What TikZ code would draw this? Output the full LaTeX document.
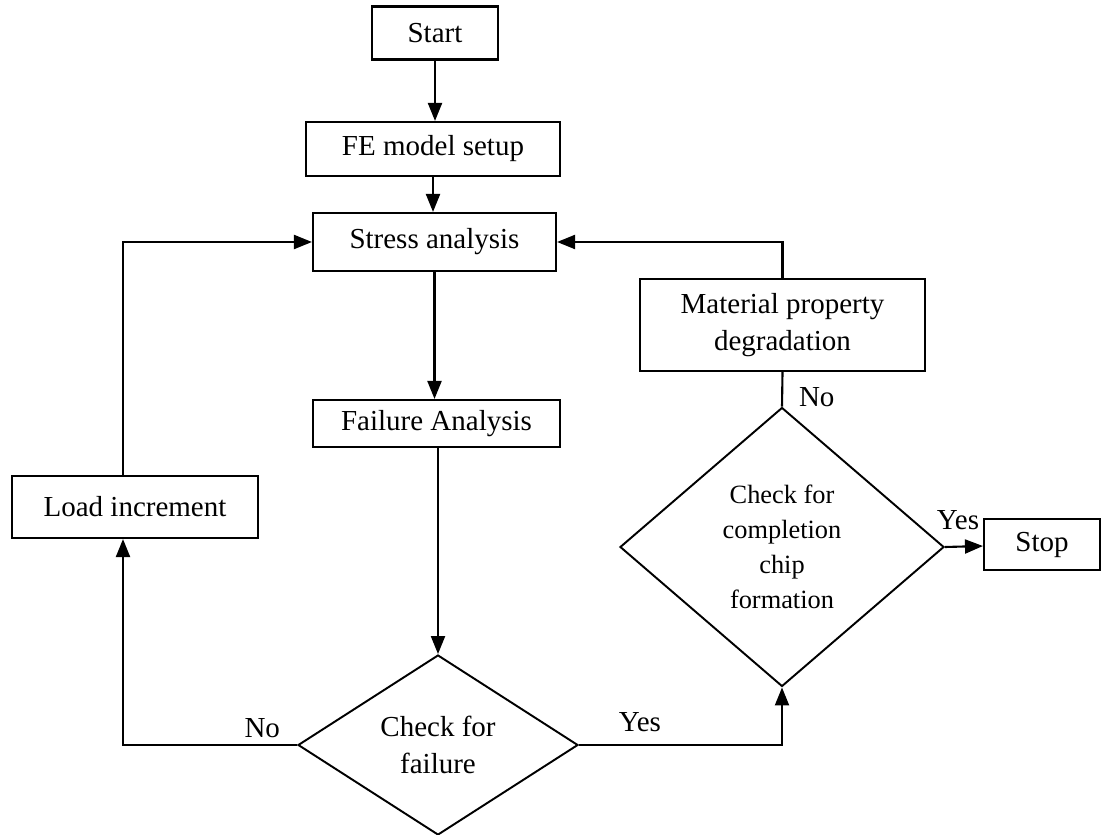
\documentclass[tikz,border=0pt]{standalone}
\usepackage{fontspec}
\setmainfont{Liberation Serif}
\usetikzlibrary{shapes.geometric,arrows.meta,positioning}

\begin{document}
\begin{tikzpicture}[
    every node/.style={font=\fontsize{16.5}{21.5}\selectfont},
    box/.style={draw, line width=1.2pt, align=center, inner sep=2pt},
    decision/.style={draw, diamond, line width=1.1pt, align=center, inner sep=0pt},
    arrow/.style={line width=1.2pt, -{Triangle[length=0.36cm, width=0.28cm]}},
    link/.style={line width=1.2pt}
  ]
                % Fix the picture area
                \useasboundingbox (0,0) rectangle (22.12,16.68);

                % Draw the process boxes
                \node[box, minimum width=2.52cm, minimum height=1.06cm] (Start) at (8.70,16.02) {Start};
                \node[box, minimum width=5.08cm, minimum height=1.08cm] (FE) at (8.66,13.70) {FE model setup};
                \node[box, minimum width=4.86cm, minimum height=1.16cm] (Stress) at (8.69,11.84) {Stress analysis};
                \node[box, minimum width=4.94cm, minimum height=0.94cm] (Failure) at (8.73,8.21) {Failure Analysis};
                \node[box, minimum width=4.92cm, minimum height=1.24cm] (Load) at (2.70,6.54) {Load increment};
                \node[box, minimum width=5.70cm, minimum height=1.84cm] (Material) at (15.65,10.18) {Material property\\degradation};
                \node[box, minimum width=2.32cm, minimum height=1.02cm] (Stop) at (20.84,5.79) {Stop};

                % Draw the two checks
                \node[decision, minimum width=5.6cm, minimum height=3.6cm] (CheckFail) at (8.76,1.78) {Check for\\failure};
                \node[decision, minimum width=6.48cm, minimum height=5.58cm,
                      font=\fontsize{15}{19.8}\selectfont] (CheckChip) at (15.64,5.74) {Check for\\completion\\chip\\formation};

                % Corner points of the load loop
                \coordinate (LoadTop) at ([xshift=-0.24cm]Load.north);
                \coordinate (LoadBot) at ([xshift=-0.24cm]Load.south);

                % Draw the main line down
                \draw[arrow] (Start.south) -- (Start.south |- FE.north);
                \draw[arrow] (FE.south) -- (FE.south |- Stress.north);
                \draw[arrow] (Stress.south) -- (Stress.south |- Failure.north);
                \draw[arrow] (CheckFail.north |- Failure.south) -- (CheckFail.north);

                % Draw the No branch back to the load increment
                \draw[arrow] (CheckFail.west) -| node[pos=0.1, above] {No} (LoadBot);
                \draw[arrow] (LoadTop) |- (Stress.west);

                % Draw the Yes branch to the completion check
                \draw[arrow] (CheckFail.east) -| node[pos=0.15, above, yshift=0.12cm] {Yes} (CheckChip.south);
                \draw[link] (CheckChip.north) -- node[pos=0.27, right, xshift=0.2cm] {No} (Material.south);
                \draw[arrow] (Material.north) |- (Stress.east);
                \draw[arrow] (CheckChip.east) -- node[midway, above, xshift=-0.12cm, yshift=0.2cm] {Yes} (Stop);
            \end{tikzpicture}
\end{document}
